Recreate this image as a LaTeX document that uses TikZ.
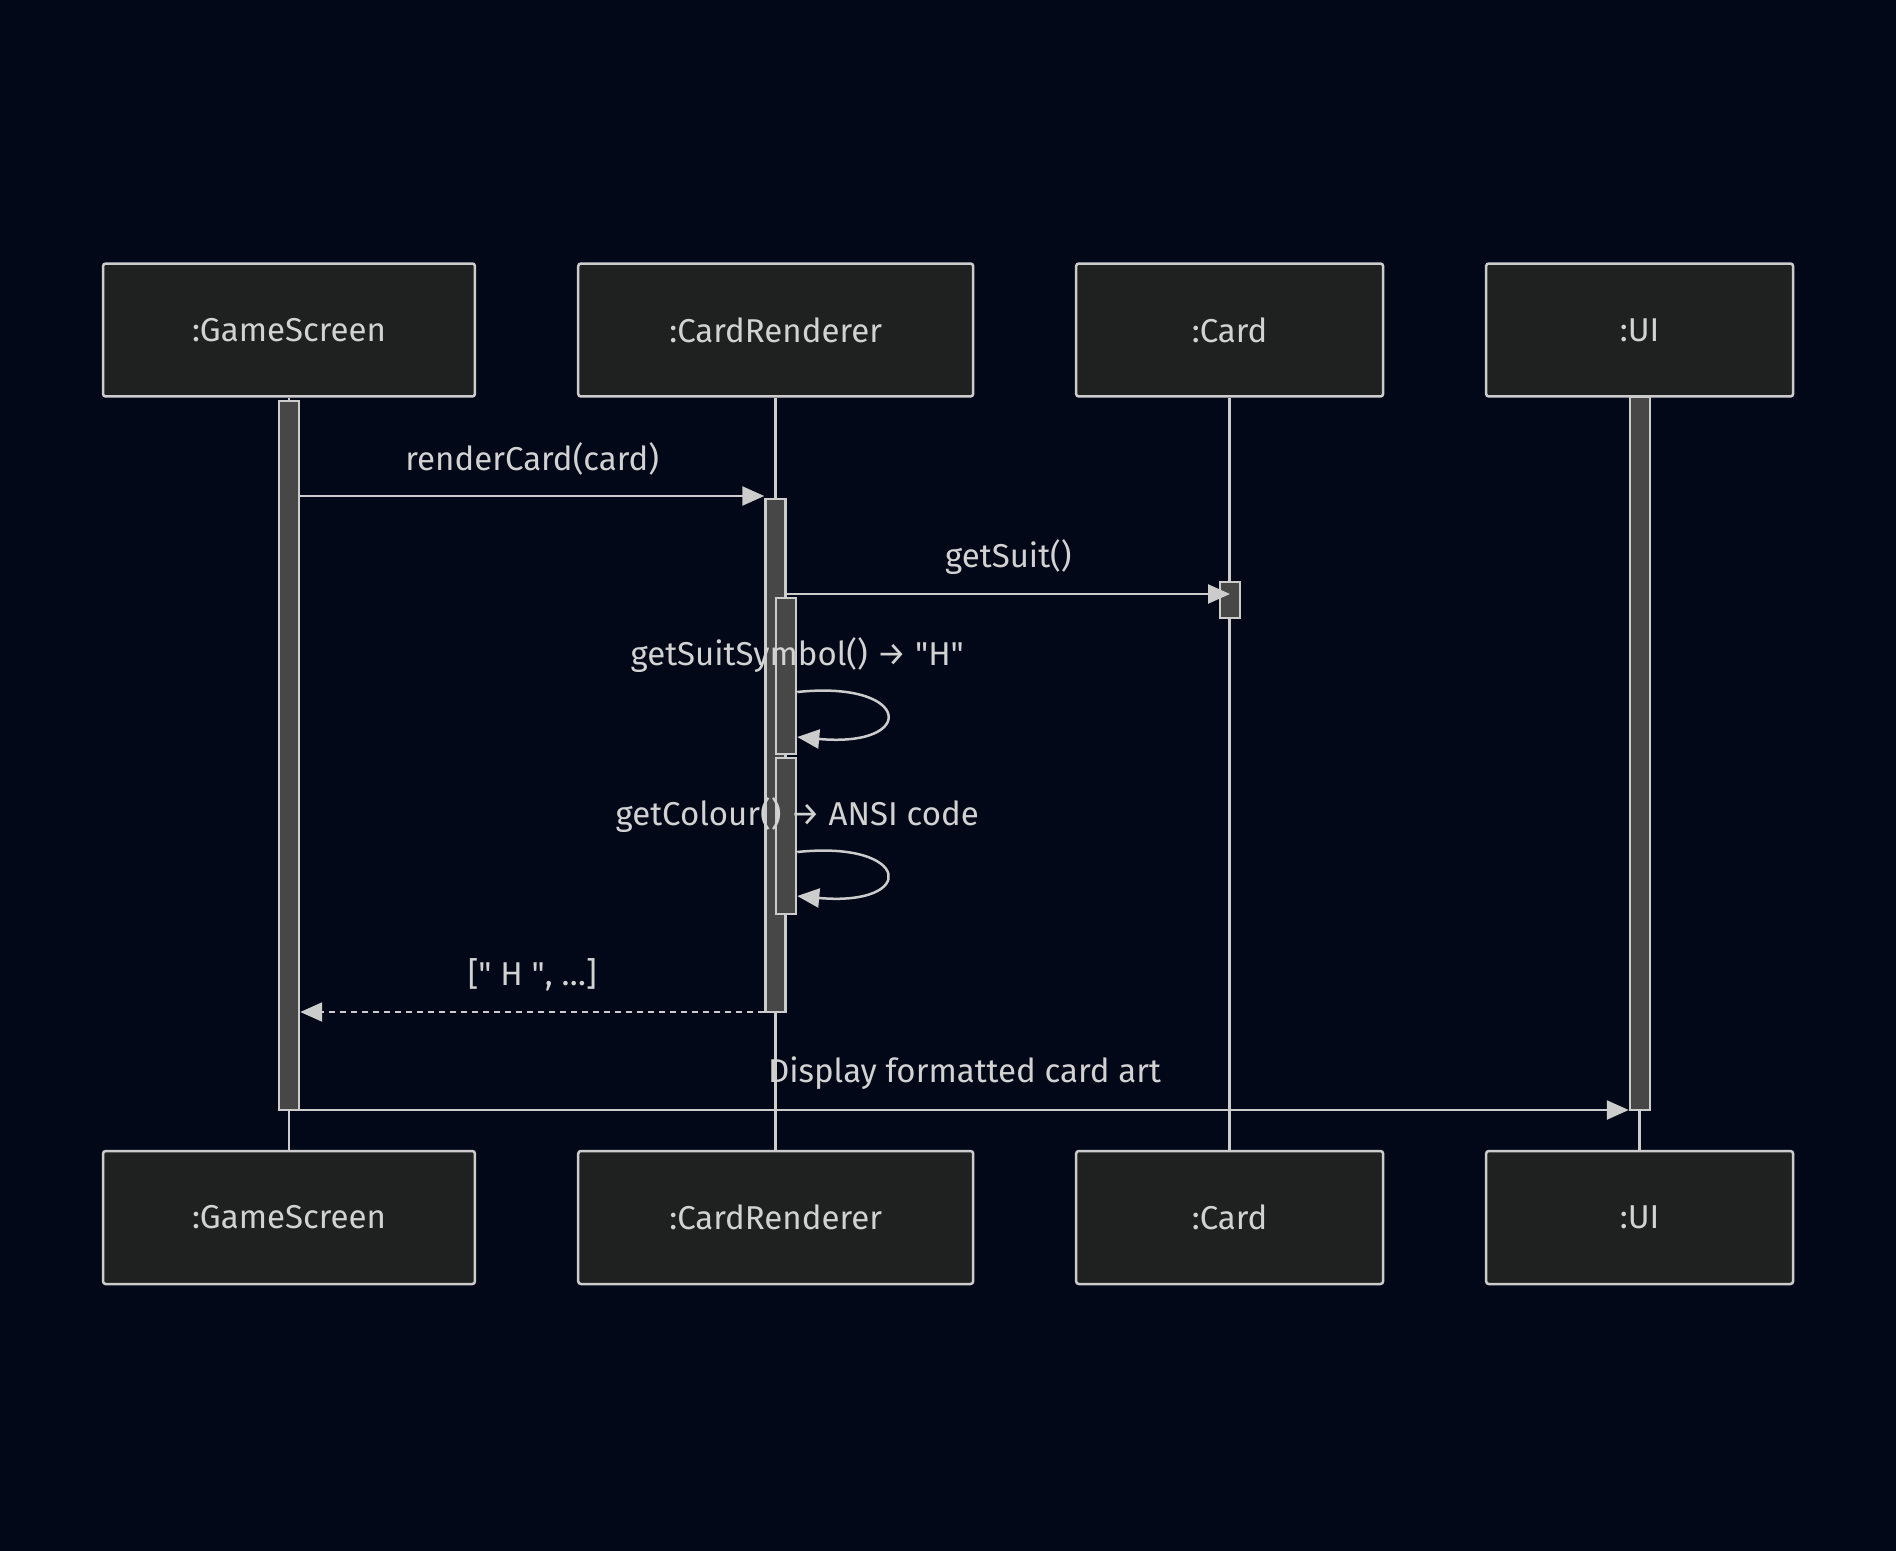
\documentclass[tikz,border=0pt]{standalone}
\usepackage{fontspec}
\setmainfont{Fira Sans}
\usetikzlibrary{arrows.meta}
\definecolor{bgcol}{HTML}{020817}
\definecolor{boxfill}{HTML}{1F2020}
\definecolor{edge}{HTML}{CCCCCC}
\definecolor{actfill}{HTML}{474747}
\definecolor{txt}{HTML}{D2D2D2}

\begin{document}
\begin{tikzpicture}[x=0.02cm,y=-0.02cm,
	actor/.style={draw=edge,fill=boxfill,line width=0.05cm,rounded corners=1.5pt,
		minimum height=2.66cm,text=txt,font=\fontsize{18.8}{22}\selectfont},
	life/.style={draw=edge,line width=0.05cm},
	act/.style={draw=edge,fill=actfill,line width=0.05cm,minimum width=0.4cm,inner sep=0pt},
	msg/.style={draw=edge,line width=0.05cm,-{Triangle[length=0.44cm,width=0.38cm]}},
	reply/.style={msg,dash pattern=on 0.12cm off 0.1cm},
	lbl/.style={text=txt,font=\fontsize{18.8}{22}\selectfont,yshift=0.74cm}]
		\fill[bgcol] (0,0) rectangle (1896,1551);
		\useasboundingbox (0,0) rectangle (1896,1551);

		\node[actor,minimum width=7.44cm]	(gs)	at (289,330)	{:GameScreen};
		\node[actor,minimum width=7.9cm]	(cr)	at (775.7,330)	{:CardRenderer};
		\node[actor,minimum width=6.14cm]	(card)	at (1229.6,330)	{:Card};
		\node[actor,minimum width=6.14cm]	(ui)	at (1639.6,330)	{:UI};
		\node[actor,minimum width=7.44cm]	(gsb)	at (289,1217.5)	{:GameScreen};
		\node[actor,minimum width=7.9cm]	(crb)	at (775.7,1217.5)	{:CardRenderer};
		\node[actor,minimum width=6.14cm]	(cardb)	at (1229.6,1217.5)	{:Card};
		\node[actor,minimum width=6.14cm]	(uib)	at (1639.6,1217.5)	{:UI};

		\draw[life] (gs) -- (gsb);
		\draw[life] (cr) -- (crb);
		\draw[life] (card) -- (cardb);
		\draw[life] (ui) -- (uib);

		\node[act,minimum height=14.18cm]	(gsact)		at (289,755.5)	{};
		\node[act,minimum height=14.26cm]	(uiact)		at (1640,753.5)	{};
		\node[act,minimum height=10.26cm]	(cract)		at (775.5,755.5)	{};
		\node[act,minimum height=0.72cm]	(cardact)	at (1230,600)	{};
		\node[act,minimum height=3.12cm]	(symact)	at (786,676)	{};
		\node[act,minimum height=3.12cm]	(colact)	at (786,836)	{};

		\coordinate (m1) at (0,496);
		\coordinate (m2) at (0,594);
		\coordinate (s1) at (0,692);
		\coordinate (s2) at (0,737);
		\coordinate (c1) at (0,852);
		\coordinate (c2) at (0,896);
		\coordinate (m3) at (0,1012);
		\coordinate (m4) at (0,1110);

		\draw[msg] (gsact.east |- m1) -- (cract.west |- m1) node[lbl,midway] {renderCard(card)};
		\draw[msg] (cract.east |- m2) -- (cardact.center |- m2) node[lbl,midway] {getSuit()};
		\draw[msg] (symact.east |- s1) .. controls +(115,-12) and +(121,11) .. (symact.east |- s2)
			node[lbl,at start] {getSuitSymbol() → \textquotedbl H\textquotedbl};
		\draw[msg] (colact.east |- c1) .. controls +(115,-12) and +(121,11) .. (colact.east |- c2)
			node[lbl,at start] {getColour() → ANSI code};
		\draw[reply] (cract.west |- m3) -- (gsact.east |- m3)
			node[lbl,midway] {[\textquotedbl\ H \textquotedbl, …]};
		\draw[msg] (gsact.east |- m4) -- (uiact.west |- m4) node[lbl,midway] {Display formatted card art};
	\end{tikzpicture}
\end{document}
